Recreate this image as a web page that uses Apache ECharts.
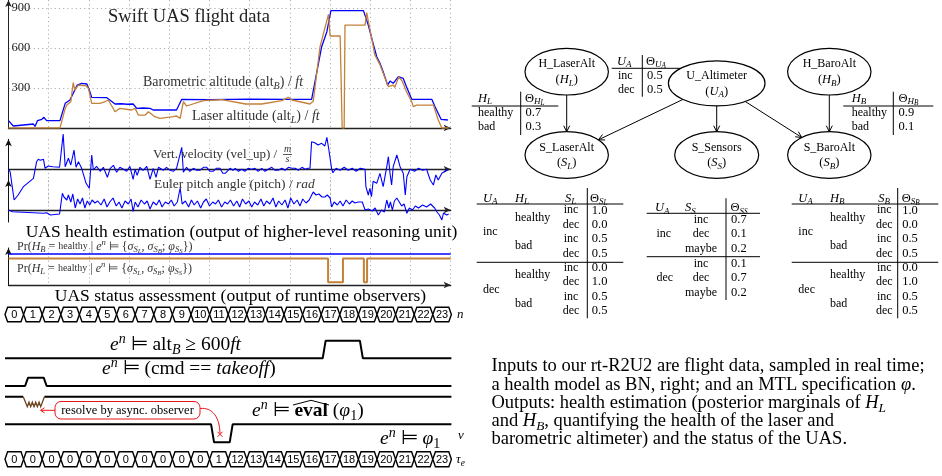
<!DOCTYPE html>
<html><head><meta charset="utf-8">
<script src="https://cdn.jsdelivr.net/npm/echarts@6/dist/echarts.min.js"></script>
<style>html,body{margin:0;padding:0;background:#fff}#c{width:942px;height:476px}</style>
</head><body><div id="c"></div><script>
// ---------------- DATA ----------------
const baroT = [0,0.12,0.62,0.66,0.72,0.83,0.88,0.95,1.28,1.41,1.53,1.71,1.82,1.95,2.01,2.07,2.44,2.52,2.65,2.8,2.95,3.10,3.19,3.35,3.52,3.60,4.18,4.31,5.0,6.0,7.0,7.54,7.79,7.92,8.02,8.83,8.95,9.07,9.16,9.24,9.32,9.43,9.49,9.57,9.70,9.82,9.90,10.03,10.53,10.61,10.76,10.93];
const baroV = [55,15,30,12,55,65,80,55,55,185,210,322,335,330,285,230,228,210,180,182,178,180,147,150,147,135,135,215,213,216,214,215,610,722,880,880,772,635,535,485,422,322,352,335,385,372,310,215,215,160,65,60];
const laserT = [0,1.28,1.41,1.45,1.55,1.61,1.65,1.74,1.93,1.99,2.07,2.28,2.40,2.48,2.57,2.65,2.77,3.06,3.15,3.23,3.40,3.48,3.64,3.77,4.10,4.18,4.27,4.35,4.43,4.85,5.3,5.9,6.3,6.8,6.96,7.05,7.5,7.58,7.75,7.96,8.0,8.25,8.30,8.35,8.37,8.87,8.91,8.97,9.03,9.11,9.24,9.45,9.57,9.61,9.71,9.80,9.90,10.03,10.07,10.15,10.57,10.69,10.78,10.95];
const laserV = [0,0,147,172,197,340,285,322,317,295,185,185,197,210,165,122,147,135,147,97,97,122,85,72,85,90,72,197,165,205,212,180,180,205,230,210,180,200,610,852,690,690,0,0,772,772,865,772,682,550,475,310,322,305,385,347,272,197,160,172,172,60,0,0];
const velT = [0,0.04,0.14,0.24,0.37,0.5,0.62,0.64,0.70,0.74,0.79,0.83,0.87,0.91,0.95,0.99,1.1,1.27,1.36,1.41,1.49,1.55,1.63,1.68,1.74,1.82,1.93,2.01,2.07,2.11,
 2.19,2.28,2.36,2.46,2.53,2.61,2.69,2.77,2.86,2.94,3.02,3.10,3.15,3.20,3.27,3.35,3.44,3.52,3.60,3.67,3.73,3.85,3.93,4.02,4.10,4.18,4.31,4.35,4.43,4.51,4.60,4.68,4.76,4.85,4.93,5.01,5.09,5.17,5.26,5.33,5.39,5.51,5.58,5.64,5.72,5.80,5.88,5.96,6.05,6.13,6.21,6.30,6.38,6.46,6.55,6.63,6.71,6.80,6.88,6.96,7.05,7.13,7.21,7.30,7.38,7.45,7.50,
 7.54,7.62,7.70,7.79,7.87,7.92,7.97,8.04,8.07,8.15,8.25,8.35,8.45,8.55,8.65,8.75,8.87,8.89,8.95,8.99,9.03,9.07,9.16,9.24,9.32,9.41,9.45,9.49,9.53,9.57,9.66,9.74,9.82,9.87,9.91,9.99,10.1,10.2,10.3,10.4,10.49,10.57,10.63,10.69,10.78,10.93];
const velV = [0,-2.4,-30.7,-25.7,-17.4,-13,-9,-10.7,7.6,10,9,8.6,10,1,0,3.3,2.5,2,35.3,2.6,11,4.3,19.3,2,7.6,1,-14,-19,14.3,-0.7,
 3,-2,2,-8,1,4,-3,2,0,-2,3,-10,0,-6,2,-1,3,-10,1,-8,2,-1,2,-1,-2,1,22,-3,2,-2,1,-1,-1,2,2,-2,-2,1,1,-4,-4,1,-1,1,-2,0,-2,1,0,1,-2,1,-2,0,2,-1,-1,1,-1,2,1,1,-1,2,0,1,1,
 27.6,26.6,24.3,26,23.3,32,19.3,0,-3.4,1,-1,2,-1,1,-2,1,0,-17.4,-25.7,-19,-27.4,-12,-14,-4,-17.4,2.6,12.6,-4,-15.7,2.6,14.3,2.6,-4,-25.7,-7.4,0,-2,1,-1,0,-10.7,-15.7,-5.7,-10.7,-4,0];
const pitchT = [0,0.1,0.87,0.95,1.04,1.27,1.34,1.38,1.45,1.49,1.55,1.6,1.66,1.72,1.78,1.84,1.9,1.96,2.02,2.08,2.15,2.22,2.3,2.38,2.45,2.52,2.6,2.68,2.75,2.82,2.9,2.98,3.05,3.1,3.15,3.22,3.3,3.38,3.45,3.52,3.6,3.68,3.75,3.82,3.9,3.98,4.05,4.12,4.2,4.27,4.32,4.4,4.48,4.55,4.62,4.7,4.78,4.85,4.92,5.0,5.08,5.15,5.22,5.3,5.38,5.45,5.52,5.6,5.68,5.75,5.82,5.9,5.98,6.05,6.12,6.2,6.28,6.35,6.42,6.5,6.58,6.65,6.72,6.8,6.88,6.95,7.02,7.1,7.18,7.25,7.32,7.4,7.48,7.58,7.65,7.72,7.8,7.87,7.93,8.0,8.04,8.1,8.18,8.25,8.32,8.4,8.48,8.55,8.62,8.7,8.8,8.87,8.95,9.05,9.12,9.2,9.28,9.35,9.41,9.46,9.5,9.55,9.6,9.66,9.72,9.78,9.84,9.91,9.97,10.05,10.12,10.2,10.3,10.4,10.5,10.6,10.66,10.72,10.78,10.82,10.9,10.95];
const pitchV = [0,-1.7,-3.3,-2.7,-5,-4,16.7,13,10,15,8,16,2,11,6,12,2,9,5,10,7,9,5,11,3,8,12,4,8,2,9,6,11,-1.5,8,3,10,6,9,1,8,5,10,3,8,6,10,4,8,22,6,9,3,10,5,9,2,8,11,4,8,6,10,3,8,6,10,4,9,3,11,6,9,3,8,5,11,4,9,6,12,3,9,5,10,2,12,6,10,4,11,7,10,18,15,16,13,13,15,12,3,8,5,9,4,10,6,9,7,8,8,0,1,-1,2,-5,0,-2,10,2,8,0,9,12,8,4,6,-3.3,2,0,4,2,5,3,6,2,-2,-5,-10,-3,-5,-4];
const healthBT = [0, 11];
const healthBV = [0.92, 0.92];
const healthLT = [0, 7.95, 8.32, 8.84, 8.92, 11];
const healthLV = [0.79, 0.08, 0.79, 0.08, 0.79, 0.79];
const altTicks = [300, 600, 900];
const nLabels = ['0','1','2','3','4','5','6','7','8','9','10','11','12','13','14','15','16','17','18','19','20','21','22','23'];
const tauLabels = ['0','0','0','0','0','0','0','0','0','0','0','1','12','13','14','15','16','17','18','19','20','21','22','23'];
const altSig  = [0,0,0,0,0,0,0,0,0,0,0,0,0,0,0,0,0,1,1,0,0,0,0,0];
const cmdSig  = [0,1,0,0,0,0,0,0,0,0,0,0,0,0,0,0,0,0,0,0,0,0,0,0];
const evalSig = [1,null,1,1,1,1,1,1,1,1,1,1,1,1,1,1,1,1,1,1,1,1,1,1];
const phiSig  = [1,1,1,1,1,1,1,1,1,1,1,0,1,1,1,1,1,1,1,1,1,1,1,1];
const priorUA = ['0.5','0.5'];
const priorHL = ['0.7','0.3'];
const priorHB = ['0.9','0.1'];
const cptSL = ['1.0','0.0','0.5','0.5','0.0','1.0','0.5','0.5'];
const cptSS = ['0.7','0.1','0.2','0.1','0.7','0.2'];
const cptSB = ['1.0','0.0','0.5','0.5','0.0','1.0','0.5','0.5'];

// ---------------- HELPERS ----------------
const SERIF = '"Liberation Serif","Times New Roman",serif';
const SANS = '"Liberation Sans",Arial,sans-serif';
const BLUE = '#0000ff', ORANGE = '#c4813a', RED = '#e8141b';
const zip = (a, b) => a.slice(0, Math.min(a.length, b.length)).map((x, i) => [x, b[i]]);

function rs(fs, fill) {
  const sub = Math.round(fs * 0.72 * 10) / 10;
  const ss = Math.round(sub * 0.8 * 10) / 10;
  const lh = Math.round(fs * 1.3);
  const b = {fontFamily: SERIF, fill: fill};
  return {
    r: Object.assign({fontSize: fs, lineHeight: lh}, b),
    i: Object.assign({fontSize: fs, lineHeight: lh, fontStyle: 'italic'}, b),
    b: Object.assign({fontSize: fs, lineHeight: lh, fontWeight: 'bold'}, b),
    t: Object.assign({fontSize: Math.round(fs * 0.85), lineHeight: lh}, b),
    s: Object.assign({fontSize: sub, lineHeight: sub, fontStyle: 'italic', verticalAlign: 'bottom'}, b),
    sr: Object.assign({fontSize: sub, lineHeight: sub, verticalAlign: 'bottom'}, b),
    ss: Object.assign({fontSize: ss, lineHeight: Math.max(ss - 2, 4), fontStyle: 'italic', verticalAlign: 'bottom'}, b),
    p: Object.assign({fontSize: sub, lineHeight: sub, fontStyle: 'italic', verticalAlign: 'top'}, b)
  };
}
const graphics = [];
function text(x, y, str, fs, opt) {
  opt = opt || {};
  const fill = opt.fill || '#000';
  graphics.push({type: 'text', x: x, y: y, z: 100, silent: true,
    style: {text: str, fontFamily: opt.family || SERIF, fontSize: fs, fontStyle: opt.italic ? 'italic' : 'normal',
      fontWeight: opt.bold ? 'bold' : 'normal', fill: fill, lineHeight: Math.round(fs * 1.3),
      align: opt.align || 'left', verticalAlign: 'middle', textAlign: opt.align || 'left', textVerticalAlign: 'middle',
      rich: rs(fs, fill)}});
}
function line(x1, y1, x2, y2, w, color) {
  graphics.push({type: 'line', z: 90, silent: true, shape: {x1, y1, x2, y2}, style: {stroke: color || '#000', lineWidth: w || 1}});
}
function poly(points, w, color) {
  graphics.push({type: 'polyline', z: 90, silent: true, shape: {points: points}, style: {stroke: color || '#000', lineWidth: w || 1, fill: null}});
}

// ---------------- PLOT LABELS ----------------
text(189, 17, 'Swift UAS flight data', 18.5, {align: 'center', fill: '#222'});
text(143, 82, 'Barometric altitude (alt{s|B}) / {i|ft}', 14, {fill: '#333'});
text(192, 116, 'Laser altitude (alt{s|L}) / {i|ft}', 14, {fill: '#333'});
text(153, 154.5, 'Vert. velocity (vel_up) / ', 13, {fill: '#333'});
text(287.5, 149.5, 'm', 10, {italic: true, align: 'center', fill: '#333'});
text(287.5, 159.5, 's', 10, {italic: true, align: 'center', fill: '#333'});
line(283, 154.5, 292, 154.5, 0.8, '#333');
text(154, 184.5, 'Euler pitch angle (pitch) / {i|rad}', 13.5, {fill: '#333'});
text(241.5, 232, 'UAS health estimation (output of higher-level reasoning unit)', 17.5, {align: 'center'});
text(17, 246.5, 'Pr({i|H}{s|B} = {t|healthy} | {i|e}{p|n} ⊨ {{i|σ}{s|S}{ss|L}, {i|σ}{s|S}{ss|B}; {i|φ}{s|S}{ss|S}})', 12, {fill: '#333'});
text(17, 268.5, 'Pr({i|H}{s|L} = {t|healthy} | {i|e}{p|n} ⊨ {{i|σ}{s|S}{ss|L}, {i|σ}{s|S}{ss|B}; {i|φ}{s|S}{ss|S}})', 12, {fill: '#333'});
text(240.5, 296.5, 'UAS status assessment (output of runtime observers)', 17.5, {align: 'center'});

// timing labels
text(457, 315, '{i|n}', 13);
text(110, 345, '{i|e}{p|n} ⊨ alt{s|B} ≥ 600{i|ft}', 19.5);
text(102, 369, '{i|e}{p|n} ⊨ (cmd == {i|takeoff})', 19.5);
text(252, 411, '{i|e}{p|n} ⊨ {b|eval} ({i|φ}{sr|1})', 19.5);
poly([[293, 405], [311, 400.3], [329, 405]], 1, '#000');
text(380, 438.5, '{i|e}{p|n} ⊨ {i|φ}{sr|1}', 19.5);
text(458, 436, '{i|v}', 13);
text(456, 460, '{i|τ}{s|e}', 13);

// red callout
graphics.push({type: 'rect', z: 95, silent: true, shape: {x: 55, y: 401.5, width: 145, height: 17.5, r: 6}, style: {fill: '#fff', stroke: RED, lineWidth: 1}});
text(127.5, 410.3, 'resolve by async. observer', 12.5, {align: 'center'});
line(55, 410.3, 41, 410.3, 1, RED);
poly([[44.5, 407.8], [40.5, 410.3], [44.5, 412.8]], 1, RED);
graphics.push({type: 'bezierCurve', z: 90, silent: true, shape: {x1: 200, y1: 408.5, cpx1: 213, cpy1: 407, cpx2: 219.5, cpy2: 418, x2: 220, y2: 433}, style: {stroke: RED, lineWidth: 1, fill: null}});
line(217.5, 431.8, 222.5, 436.8, 1, RED);
line(217.5, 436.8, 222.5, 431.8, 1, RED);

// ---------------- BN DIAGRAM ----------------
const bnNames = ['H_LaserAlt', 'U_Altimeter', 'H_BaroAlt', 'S_LaserAlt', 'S_Sensors', 'S_BaroAlt'];
const bnSyms = ['{i|H}{s|L}', '{i|U}{s|A}', '{i|H}{s|B}', '{i|S}{s|L}', '{i|S}{s|S}', '{i|S}{s|B}'];
const bnEdges = [[0, 3], [1, 3], [1, 4], [1, 5], [2, 5]];
const bnLayout = [[566.7, 71.7, 41.7, 23.3], [716.7, 83.3, 48.3, 22.5], [829.3, 71.7, 41.7, 23.3],
                  [566.7, 155, 41.7, 23.3], [716.7, 155, 42, 23.3], [829.3, 155, 41.7, 23.3]];
bnLayout.forEach((L, k) => {
  graphics.push({type: 'ellipse', z: 92, silent: true, shape: {cx: L[0], cy: L[1], rx: L[2], ry: L[3]}, style: {fill: '#fff', stroke: '#000', lineWidth: 1.2}});
  text(L[0], L[1] - 7.5, bnNames[k], 12, {align: 'center'});
  text(L[0], L[1] + 8, '(' + bnSyms[k] + ')', 12.5, {align: 'center'});
});
function boundary(L, tx, ty) {
  const dx = tx - L[0], dy = ty - L[1];
  const t = 1 / Math.sqrt((dx / L[2]) ** 2 + (dy / L[3]) ** 2);
  return [L[0] + dx * t, L[1] + dy * t];
}
bnEdges.forEach(e => {
  const A = bnLayout[e[0]], B = bnLayout[e[1]];
  const p = boundary(A, B[0], B[1]), q = boundary(B, A[0], A[1]);
  line(p[0], p[1], q[0], q[1], 1);
  const ang = Math.atan2(q[1] - p[1], q[0] - p[0]);
  const L = 6, W = 3;
  const bx = q[0] - L * Math.cos(ang), by = q[1] - L * Math.sin(ang);
  poly([[bx - W * Math.sin(ang), by + W * Math.cos(ang)], q, [bx + W * Math.sin(ang), by - W * Math.cos(ang)]], 1);
});

// prior tables
text(617, 61.5, '{i|U}{s|A}', 12.5);
text(646, 61.5, '{r|Θ}{s|U}{ss|A}', 12.5);
line(611.7, 68.3, 680.5, 68.3, 1);
line(642.3, 55, 642.3, 96.7, 1);
['inc', 'dec'].forEach((s, k) => { text(618, 76 + 14 * k, s, 12); text(647, 76 + 14 * k, priorUA[k], 12.5); });

text(478, 98.5, '{i|H}{s|L}', 12.5);
text(525, 98.5, '{r|Θ}{s|H}{ss|L}', 12.5);
line(471.7, 106, 558.3, 106, 1);
line(520.7, 91.7, 520.7, 135, 1);
['healthy', 'bad'].forEach((s, k) => { text(478, 112.7 + 14 * k, s, 12); text(525.5, 112.7 + 14 * k, priorHL[k], 12.5); });

text(851.7, 98.5, '{i|H}{s|B}', 12.5);
text(898.5, 98.5, '{r|Θ}{s|H}{ss|B}', 12.5);
line(843.3, 106, 933.3, 106, 1);
line(893.3, 91.7, 893.3, 135, 1);
['healthy', 'bad'].forEach((s, k) => { text(851.7, 112.7 + 14 * k, s, 12); text(898.5, 112.7 + 14 * k, priorHB[k], 12.5); });

// CPT tables S_L / S_B
function cpt4(x0, x1, xUA, xH, xS, xT, xV, hSym, sSym, tSym, vals) {
  text(xUA, 198.3, '{i|U}{s|A}', 12.5);
  text(xH, 198.3, hSym, 12.5);
  text(xS, 198.3, sSym, 12.5);
  text(xT, 198.3, tSym, 12.5);
  line(x0, 204, x1, 204, 1);
  line(x0, 262.3, x1, 262.3, 1);
  line(xV, 188, xV, 318.3, 1);
  const tops = [210.3, 267.8];
  ['inc', 'dec'].forEach((ua, b) => {
    text(xUA, tops[b] + 21.6, ua, 12);
    ['healthy', 'bad'].forEach((h, c) => {
      text(xH, tops[b] + 7.2 + 28.8 * c, h, 12);
      ['inc', 'dec'].forEach((s, d) => {
        const k = b * 4 + c * 2 + d;
        const y = tops[b] + 14.4 * (c * 2 + d);
        text(xS + 6, y, s, 12, {align: 'center'});
        text(xV + 4.5, y, vals[k], 12.5);
      });
    });
  });
}
cpt4(476.7, 623.3, 483, 515, 565, 590, 587.3, '{i|H}{s|L}', '{i|S}{s|L}', '{r|Θ}{s|S}{ss|L}', cptSL);
cpt4(791.7, 938.3, 798.3, 830, 878.3, 901.7, 897.7, '{i|H}{s|B}', '{i|S}{s|B}', '{r|Θ}{s|S}{ss|B}', cptSB);

// CPT S_S
text(655, 208, '{i|U}{s|A}', 12.5);
text(685, 208, '{i|S}{s|S}', 12.5);
text(730.5, 208, '{r|Θ}{s|S}{ss|S}', 12.5);
line(646.7, 213.3, 760, 213.3, 1);
line(646.7, 256.7, 760, 256.7, 1);
line(726, 198.3, 726, 300, 1);
[219.5, 263.5].forEach((top, b) => {
  text(656.5, top + 14.5, ['inc', 'dec'][b], 12);
  ['inc', 'dec', 'maybe'].forEach((s, d) => {
    text(701, top + 14.5 * d, s, 12, {align: 'center'});
    text(731, top + 14.5 * d, cptSS[b * 3 + d], 12.5);
  });
});

// caption
const capLines = [
  'Inputs to our rt-R2U2 are flight data, sampled in real time;',
  'a health model as BN, right; and an MTL specification {i|φ}.',
  'Outputs: health estimation (posterior marginals of {i|H}{s|L}',
  'and {i|H}{s|B}, quantifying the health of the laser and',
  'barometric altimeter) and the status of the UAS.'];
capLines.forEach((s, k) => text(491.5, 366.5 + 18.2 * k, s, 18.5));

// ---------------- AXES / GRIDS ----------------
const PL = 8.5, PW = 442.2, TL = 5, TW = 446.4;
const gridDefs = [
  [PL, PW, 0, 128], [PL, PW, 139.3, 65], [PL, PW, 180, 42], [PL, PW, 248, 37],
  [TL, TW, 307.3, 14.4], [TL, TW, 340.7, 17.6], [TL, TW, 377.7, 8.3], [TL, TW, 396.7, 10], [TL, TW, 424.3, 18], [TL, TW, 451.7, 15]];
const grid = gridDefs.map(g => ({left: g[0], width: g[1], top: g[2], height: g[3], containLabel: false, outerBoundsMode: 'none'}));

const dotted = {show: true, showMinLine: false, showMaxLine: false, lineStyle: {color: '#b0b0b0', type: [1.2, 3], width: 1}};
const arrowLine = (color, w) => ({show: true, onZero: true, symbol: ['none', 'arrow'], symbolSize: [5, 7], lineStyle: {color: color, width: w}});
const xAxis = [], yAxis = [];
for (let g = 0; g < 4; g++) {
  xAxis.push({type: 'value', gridIndex: g, min: 0, max: 11, interval: 1, axisLine: arrowLine('#222', 1.3),
    axisTick: {show: false}, axisLabel: {show: false}, splitLine: Object.assign({}, dotted, {showMaxLine: true})});
}
yAxis.push({type: 'value', gridIndex: 0, min: 0, max: 960, interval: 300, axisLine: arrowLine('#222', 1), axisTick: {show: false},
  axisLabel: {inside: true, margin: 3, fontFamily: SERIF, fontSize: 12.5, color: '#222', showMaxLabel: false,
    formatter: v => altTicks.indexOf(v) >= 0 ? String(v) : ''}, splitLine: dotted});
yAxis.push({type: 'value', gridIndex: 1, min: -35, max: 30, axisLine: arrowLine('#111', 1), axisTick: {show: false}, axisLabel: {show: false}, splitLine: {show: false}});
yAxis.push({type: 'value', gridIndex: 2, min: -12, max: 30, axisLine: arrowLine('#111', 1), axisTick: {show: false}, axisLabel: {show: false}, splitLine: {show: false}});
yAxis.push({type: 'value', gridIndex: 3, min: 0, max: 1.1, axisLine: arrowLine('#111', 1), axisTick: {show: false}, axisLabel: {show: false}, splitLine: {show: false}});
for (let g = 4; g < 10; g++) {
  xAxis.push({type: 'value', gridIndex: g, min: 0, max: 24, show: false});
  yAxis.push({type: 'value', gridIndex: g, min: 0, max: 1, show: false});
}

// ---------------- SERIES ----------------
function lineS(idx, data, color, w, extra) {
  return Object.assign({type: 'line', xAxisIndex: idx, yAxisIndex: idx, data: data, showSymbol: false, symbol: 'none',
    lineStyle: {color: color, width: w}, silent: true, animation: false, z: 5}, extra || {});
}
function sigPoints(sig) {
  const pts = [];
  for (let i = 0; i < sig.length; i++) {
    const v = sig[i];
    if (v === null) { pts.push([i + 0.5, '-']); continue; }
    const prev = i > 0 ? sig[i - 1] : v;
    if (i === 0) pts.push([0, v]);
    else if (prev === null) pts.push([i + 0.12, v]);
    else if (prev !== v) { pts.push([i + 0.08, prev]); pts.push([i + 0.24, v]); }
    if (i + 1 < sig.length && sig[i + 1] === null) pts.push([i + 0.98, v]);
  }
  const last = sig[sig.length - 1];
  if (last !== null) pts.push([sig.length, last]);
  return pts;
}
function busS(idx, labels) {
  return {type: 'custom', xAxisIndex: idx, yAxisIndex: idx, silent: true, animation: false, z: 5,
    data: labels.map((l, i) => [i, 0.5]),
    renderItem: function (params, api) {
      const i = api.value(0), d = 0.14;
      const P = (x, y) => api.coord([x, y]);
      const pts = [P(i, 0.5), P(i + d, 1), P(i + 1 - d, 1), P(i + 1, 0.5), P(i + 1 - d, 0), P(i + d, 0)];
      const c = P(i + 0.5, 0.5);
      return {type: 'group', children: [
        {type: 'polygon', shape: {points: pts}, style: {fill: '#fff', stroke: '#000', lineWidth: 1.4}},
        {type: 'text', x: c[0], y: c[1] + 0.5, style: {text: labels[params.dataIndex], align: 'center', verticalAlign: 'middle',
          textAlign: 'center', textVerticalAlign: 'middle', fontFamily: SANS, fontSize: 11, fill: '#000'}}]};
    }};
}
const zigzag = {type: 'custom', xAxisIndex: 7, yAxisIndex: 7, silent: true, animation: false, z: 6,
  data: evalSig.map((v, i) => [i, v === null ? 0 : 1]).filter(d => d[1] === 0),
  renderItem: function (params, api) {
    const i = api.value(0);
    const pts = [api.coord([i - 0.02, 1])];
    let k = 0;
    for (let x = i + 0.2; x <= i + 1.01; x += 0.09) { pts.push(api.coord([x, k % 2 ? 0.45 : 0.0])); k++; }
    pts.push(api.coord([i + 1.12, 1]));
    return {type: 'polyline', shape: {points: pts}, style: {stroke: '#6b4420', lineWidth: 1.3, fill: null}};
  }};

const series = [
  lineS(0, zip(baroT, baroV), BLUE, 1.3),
  lineS(0, zip(laserT, laserV), ORANGE, 1.3),
  lineS(1, zip(velT, velV), BLUE, 1.1, {clip: false}),
  lineS(2, zip(pitchT, pitchV), BLUE, 1.1, {clip: false}),
  lineS(3, zip(healthBT, healthBV), BLUE, 1.6),
  lineS(3, zip(healthLT, healthLV), ORANGE, 2, {step: 'end'}),
  busS(4, nLabels),
  lineS(5, sigPoints(altSig), '#000', 2, {clip: false}),
  lineS(6, sigPoints(cmdSig), '#000', 2, {clip: false}),
  lineS(7, sigPoints(evalSig), '#000', 2, {clip: false, connectNulls: false}),
  zigzag,
  lineS(8, sigPoints(phiSig), '#000', 2, {clip: false}),
  busS(9, tauLabels)
];

const chart = echarts.init(document.getElementById('c'), null, {renderer: 'canvas'});
chart.setOption({animation: false, backgroundColor: '#fff', grid: grid, xAxis: xAxis, yAxis: yAxis, series: series, graphic: graphics});
</script></body></html>
